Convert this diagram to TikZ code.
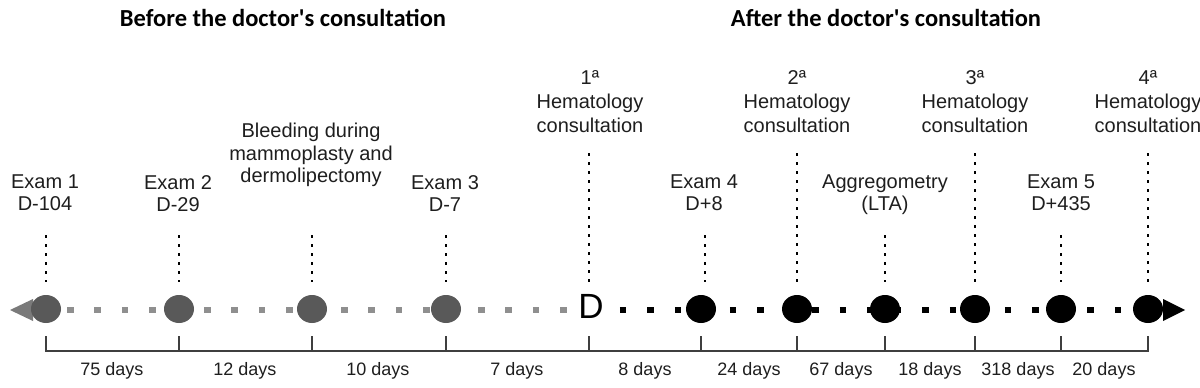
\documentclass[tikz,border=0pt]{standalone}
\usepackage{fontspec}
\setmainfont{Liberation Sans}
\newfontfamily\titlefont{Carlito}
\usetikzlibrary{shapes.geometric}
\definecolor{evgray}{HTML}{595959}
\definecolor{dashgray}{HTML}{8F8F8F}
\definecolor{arrgray}{HTML}{7A7A7A}
\definecolor{txt}{HTML}{1E1E1E}
\definecolor{brkcol}{HTML}{3F3F3F}
\begin{document}
\begin{tikzpicture}[x=1pt,y=-1pt,
  ev/.style={ellipse, minimum width=30pt, minimum height=28pt, inner sep=0pt, draw=none},
  evpast/.style={ev, fill=evgray},
  evnow/.style={ev, fill=black},
  lbl/.style={font=\fontsize{20}{22}\selectfont, align=center, inner sep=0pt, anchor=north, text=txt},
  hlbl/.style={font=\fontsize{20}{24}\selectfont, align=center, inner sep=0pt, anchor=north, text=txt},
  blbl/.style={font=\fontsize{20}{22.5}\selectfont, align=center, inner sep=0pt, anchor=north, text=txt},
  daylbl/.style={font=\fontsize{18}{20}\selectfont, inner sep=0pt, anchor=base, text=txt},
  ttl/.style={font=\titlefont\bfseries\fontsize{24.5}{28}\selectfont, inner sep=0pt, anchor=base, text=black},
  vdots/.style={line width=2.5pt, dash pattern=on 2.5pt off 6.5pt, black},
  graydash/.style={line width=6.5pt, dash pattern=on 6.5pt off 20.9pt, dash phase=20.8pt, dashgray},
  blackdash/.style={line width=6.5pt, dash pattern=on 6.5pt off 21pt, dash phase=11.5pt, black},
  brk/.style={line width=1.5pt, brkcol}
]
\useasboundingbox (0,0) rectangle (1200,388);

% titles
\node[ttl] (t1) at (283,26) {Before the doctor's consultation};
\node[ttl] (t2) at (886,26) {After the doctor's consultation};

% arrow ends
\coordinate (la) at (33,310);
\coordinate (ra) at (1163,310);
\fill[arrgray] (10,310) -- (33,299) -- (33,321) -- cycle;
\fill[black] (1185,310) -- (1163,299) -- (1163,321) -- cycle;

% D node
\node[font=\fontsize{35}{40}\selectfont, inner sep=0pt, anchor=base, text=black] (D) at (591,318) {D};

% dashed time line
\draw[graydash] (la) -- (D.west |- la);
\draw[blackdash] (D.east |- ra) -- (ra);

% events
\node[evpast] (e1) at (46,309) {};
\node[evpast] (e2) at (179,309) {};
\node[evpast] (e3) at (312,309) {};
\node[evpast] (e4) at (446,309) {};
\node[evnow] (e5) at (701,309) {};
\node[evnow] (h2) at (797,309) {};
\node[evnow] (ag) at (885,309) {};
\node[evnow] (h3) at (975,309) {};
\node[evnow] (e6) at (1061,309) {};
\node[evnow] (h4) at (1148,309) {};
\coordinate (h1) at (589,309);

% labels
\node[lbl] (l1) at (45,175) {Exam 1\\D-104};
\node[lbl] (l2) at (178,175) {Exam 2\\D-29};
\node[blbl] (lb) at (311,123) {Bleeding during\\mammoplasty and\\dermolipectomy};
\node[lbl] (l3) at (445,175) {Exam 3\\D-7};
\node[hlbl] (lh1) at (590,70) {1ª\\Hematology\\consultation};
\node[lbl] (l4) at (704,175) {Exam 4\\D+8};
\node[hlbl] (lh2) at (797,70) {2ª\\Hematology\\consultation};
\node[lbl] (lag) at (885,175) {Aggregometry\\(LTA)};
\node[hlbl] (lh3) at (975,70) {3ª\\Hematology\\consultation};
\node[lbl] (l5) at (1061,175) {Exam 5\\D+435};
\node[hlbl] (lh4) at (1148,70) {4ª\\Hematology\\consultation};

% dotted guides
\coordinate (ya) at (0,235);
\coordinate (yh) at (0,153);
\coordinate (yb) at (0,282);
\foreach \n in {e1,e2,e3,e4,ag,e6}{
  \draw[vdots] (\n |- ya) -- (\n |- yb);
}
\draw[vdots] (705,235) coordinate (e5top) -- (e5top |- yb);
\foreach \n in {h1,h2,h3,h4}{
  \draw[vdots] (\n |- yh) -- (\n |- yb);
}

% bracket
\coordinate (tt) at (0,336);
\coordinate (tb) at (0,351);
\draw[brk] (e1 |- tt) -- (e1 |- tb) -- (h4 |- tb) -- (h4 |- tt);
\foreach \n in {e2,e3,e4,h1,e5,h2,ag,h3,e6}{
  \draw[brk] (\n |- tt) -- (\n |- tb);
}

% day labels
\node[daylbl] (d1) at (112,375) {75 days};
\node[daylbl] (d2) at (245,375) {12 days};
\node[daylbl] (d3) at (378,375) {10 days};
\node[daylbl] (d4) at (517,375) {7 days};
\node[daylbl] (d5) at (645,375) {8 days};
\node[daylbl] (d6) at (749,375) {24 days};
\node[daylbl] (d7) at (841,375) {67 days};
\node[daylbl] (d8) at (930,375) {18 days};
\node[daylbl] (d9) at (1018,375) {318 days};
\node[daylbl] (d10) at (1104,375) {20 days};
\end{tikzpicture}
\end{document}
